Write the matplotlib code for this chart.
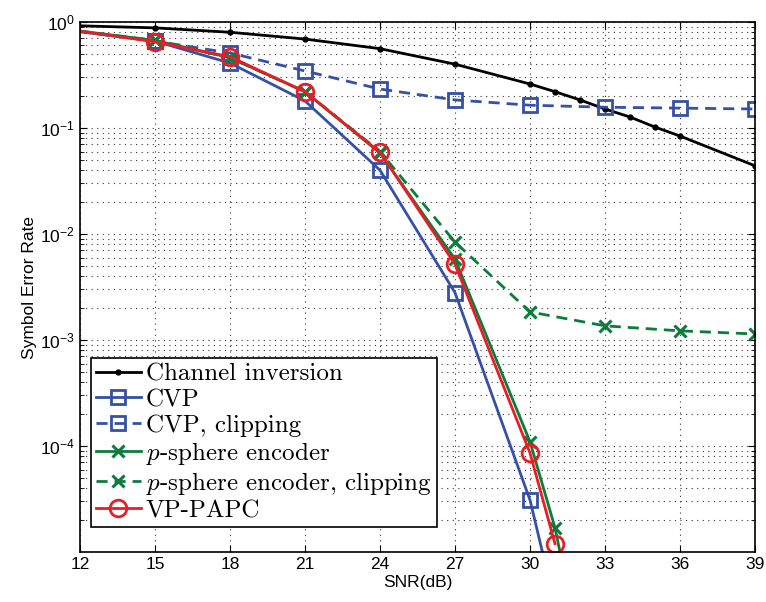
import numpy as np
import matplotlib
matplotlib.use('Agg')
import matplotlib.pyplot as plt
from matplotlib.ticker import LogLocator, FixedLocator, NullFormatter

# Daten
snr_ci = [12, 15, 18, 21, 24, 27, 30, 31, 32, 33, 34, 35, 36, 39]
ser_ci = [0.92, 0.88, 0.80, 0.69, 0.56, 0.40, 0.26, 0.22, 0.184, 0.151, 0.127, 0.102, 0.084, 0.044]

snr_cvp = [12, 15, 18, 21, 24, 27, 30, 31]
ser_cvp = [0.81, 0.66, 0.41, 0.18, 0.040, 0.0028, 3.1e-5, 3.2e-6]

snr_cvp_clip = [12, 15, 18, 21, 24, 27, 30, 33, 36, 39]
ser_cvp_clip = [0.81, 0.66, 0.51, 0.345, 0.233, 0.184, 0.164, 0.157, 0.154, 0.151]

snr_ps = [12, 15, 18, 21, 24, 27, 30, 31, 32]
ser_ps = [0.82, 0.67, 0.46, 0.22, 0.058, 0.0058, 1.1e-4, 1.7e-5, 1.2e-6]

snr_ps_clip = [12, 15, 18, 21, 24, 27, 30, 33, 36, 39]
ser_ps_clip = [0.82, 0.67, 0.46, 0.22, 0.060, 0.0084, 0.00184, 0.00136, 0.00122, 0.00114]

snr_vp = [12, 15, 18, 21, 24, 27, 30, 31]
ser_vp = [0.82, 0.65, 0.47, 0.22, 0.059, 0.0052, 8.6e-5, 1.2e-5]

labels = ['Channel inversion', 'CVP', 'CVP, clipping',
          r'$p$-sphere encoder', r'$p$-sphere encoder, clipping', 'VP-PAPC']

x_ticks = [12, 15, 18, 21, 24, 27, 30, 33, 36, 39]
y_ticks = [1e-4, 1e-3, 1e-2, 1e-1, 1]

plt.rcParams['font.family'] = ['Liberation Sans', 'DejaVu Sans']
plt.rcParams['mathtext.fontset'] = 'cm'

blue = '#3551a6'
green = '#0b7d3b'
red = '#ec1c24'
dash = (0, (4, 2.5))

fig = plt.figure(figsize=(7.66, 6.02), dpi=100)
ax = fig.add_axes([0.1044, 0.083, 0.8812, 0.8805])

# erster Punkt liegt am Rand, dort keine Marker
ax.plot(snr_ci, ser_ci, '-', color='black', lw=2, marker='.', ms=7,
        markevery=list(range(1, len(snr_ci))), label=labels[0])
ax.plot(snr_cvp, ser_cvp, '-', color=blue, lw=2, marker='s', ms=10, mfc='none',
        mew=2, markevery=list(range(1, len(snr_cvp))), label=labels[1])
ax.plot(snr_cvp_clip, ser_cvp_clip, ls=dash, color=blue, lw=2, marker='s', ms=10,
        mfc='none', mew=2, markevery=list(range(1, len(snr_cvp_clip))), label=labels[2])
ax.plot(snr_ps, ser_ps, '-', color=green, lw=2, marker='x', ms=9, mew=2.2,
        markevery=list(range(1, len(snr_ps))), label=labels[3])
ax.plot(snr_ps_clip, ser_ps_clip, ls=dash, color=green, lw=2, marker='x', ms=9,
        mew=2.2, markevery=list(range(1, len(snr_ps_clip))), label=labels[4])
ax.plot(snr_vp, ser_vp, '-', color=red, lw=2, marker='o', ms=12, mfc='none',
        mew=2, markevery=list(range(1, len(snr_vp))), label=labels[5])

ax.set_yscale('log')
ax.set_xlim(12, 39)
ax.set_ylim(1e-5, 1)
ax.xaxis.set_major_locator(FixedLocator(x_ticks))
ax.yaxis.set_major_locator(FixedLocator(y_ticks))
ax.yaxis.set_minor_locator(LogLocator(base=10, subs=np.arange(2, 10), numticks=20))
ax.yaxis.set_minor_formatter(NullFormatter())

grid_ls = (0, (1, 4))
ax.grid(True, which='major', ls=grid_ls, color='0.2', lw=0.8)
ax.grid(True, which='minor', axis='y', ls=grid_ls, color='0.2', lw=0.8)
ax.tick_params(direction='in', top=True, right=True, which='both', labelsize=12.5)
ax.tick_params(which='major', length=5)
ax.tick_params(which='minor', length=3)
for s in ax.spines.values():
    s.set_linewidth(1.2)

ax.set_xlabel('SNR(dB)', fontsize=12.5, labelpad=2)
ax.set_ylabel('Symbol Error Rate', fontsize=12.5, labelpad=2)

leg = ax.legend(loc='lower left', bbox_to_anchor=(0.016, 0.047), borderaxespad=0,
                prop={'family': 'cmr10', 'size': 18}, handlelength=1.8,
                handletextpad=0.2, labelspacing=0.12, borderpad=0.2,
                fancybox=False, framealpha=1, edgecolor='black')
leg.get_frame().set_linewidth(1.2)

fig.savefig('out.png', dpi=100)
